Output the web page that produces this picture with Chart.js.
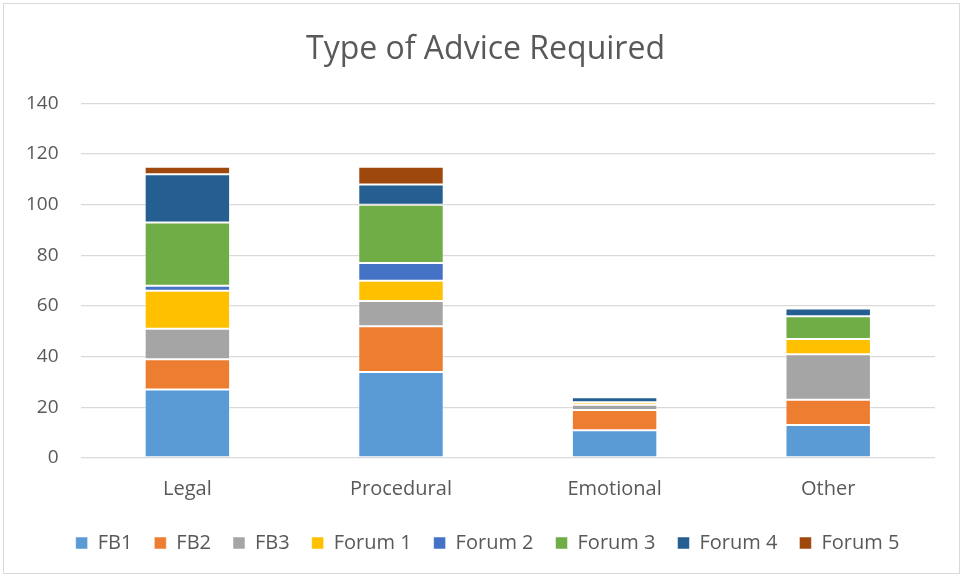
<!DOCTYPE html>
<html>
<head>
<meta charset="utf-8">
<script src="https://cdn.jsdelivr.net/npm/chart.js@4/dist/chart.umd.min.js"></script>
<style>
    body { margin: 0; background: #fff; }
    #box {
        position: absolute; left: 3px; top: 3px;
        width: 957px; height: 571px;
        border: 1px solid #d9d9d9; box-sizing: border-box;
    }
</style>
</head>
<body>
<div id="box"><canvas id="myChart" width="955" height="569"></canvas></div>
<script>
// categories + series
var categories = ['Legal', 'Procedural', 'Emotional', 'Other'];
var fb1 = [27, 34, 11, 13];
var fb2 = [12, 18, 8, 10];
var fb3 = [12, 10, 2, 18];
var forum1 = [15, 8, 1, 6];
var forum2 = [2, 7, 0, 0];
var forum3 = [25, 23, 0, 9];
var forum4 = [19, 8, 2, 3];
var forum5 = [3, 7, 0, 0];
var yTicks = [0, 20, 40, 60, 80, 100, 120, 140];

var seriesNames = ['FB1', 'FB2', 'FB3', 'Forum 1', 'Forum 2', 'Forum 3', 'Forum 4', 'Forum 5'];
var seriesData = [fb1, fb2, fb3, forum1, forum2, forum3, forum4, forum5];
var seriesColors = ['#5B9BD5', '#ED7D31', '#A5A5A5', '#FFC000', '#4472C4', '#70AD47', '#255E91', '#9E480E'];

var font = "'Open Sans', 'Noto Sans', sans-serif";
var textColor = '#595959';

var datasets = [];
for (var i = 0; i < seriesNames.length; i++) {
    datasets.push({
        label: seriesNames[i],
        data: seriesData[i],
        backgroundColor: seriesColors[i],
        borderColor: 'rgba(255, 255, 255, 0.5)',
        borderWidth: 1,
        borderSkipped: false,
        barPercentage: 0.4,
        categoryPercentage: 1.0
    });
}

// nudge legend + title a bit to the right, like in the excel chart
const boxShift = {
    id: 'boxShift',
    afterLayout: function (chart) {
        if (chart.legend) {
            chart.legend.left += 18;
            chart.legend.right += 18;
        }
        if (chart.titleBlock) {
            chart.titleBlock.left += 16;
            chart.titleBlock.right += 16;
        }
    }
};

const ctx = document.getElementById('myChart').getContext('2d');
const myChart = new Chart(ctx, {
    type: 'bar',
    data: {
        labels: categories,
        datasets: datasets
    },
    plugins: [boxShift],
    options: {
        responsive: false,
        animation: false,
        layout: {
            padding: { left: 0, right: 24, top: 27, bottom: 10 }
        },
        plugins: {
            title: {
                display: true,
                text: 'Type of Advice Required',
                color: textColor,
                font: { family: font, size: 32, weight: 'normal' },
                padding: { top: 0, bottom: 34 }
            },
            legend: {
                position: 'bottom',
                labels: {
                    color: textColor,
                    font: { family: font, size: 20 },
                    boxWidth: 12,
                    boxHeight: 12,
                    padding: 22
                }
            },
            tooltip: { enabled: false }
        },
        scales: {
            x: {
                stacked: true,
                grid: { display: false, drawTicks: false },
                border: { display: false },
                ticks: {
                    color: textColor,
                    font: { family: font, size: 20 },
                    padding: 19
                },
                afterFit: function (axis) {
                    axis.height = 53;
                }
            },
            y: {
                stacked: true,
                min: 0,
                max: 140,
                afterBuildTicks: function (axis) {
                    axis.ticks = yTicks.map(function (v) { return { value: v }; });
                },
                grid: { color: '#d9d9d9', lineWidth: 1.3, drawTicks: false },
                border: { display: false },
                ticks: {
                    color: textColor,
                    font: { family: font, size: 19 },
                    padding: 22
                }
            }
        }
    }
});
</script>
</body>
</html>
